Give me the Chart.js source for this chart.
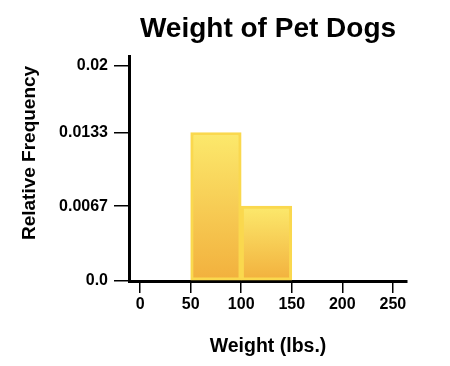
<!DOCTYPE html>
<html>
<head>
<meta charset="utf-8">
<script src="https://cdn.jsdelivr.net/npm/chart.js@4"></script>
<style>
  html, body { margin: 0; padding: 0; background: #fff; }
  #wrap { width: 450px; height: 366px; }
</style>
</head>
<body>
<div id="wrap"><canvas id="chart" width="450" height="366"></canvas></div>
<script>
// Histogram bins (lbs.) and relative frequency
const binStart = [50, 100];
const binEnd = [100, 150];
const relFreq = [0.0133, 0.0067];

// Axis ticks
const xTicks = [0, 50, 100, 150, 200, 250];
const yTickValues = [0, 0.0067, 0.0133, 0.0193];
const yTickLabels = ['0.0', '0.0067', '0.0133', '0.02'];

const points = binStart.map((s, i) => ({ x: (s + binEnd[i]) / 2, y: relFreq[i] }));

Chart.defaults.font.family = '"Liberation Sans", Arial, Helvetica, sans-serif';
Chart.defaults.color = '#000';

function barGradient(context) {
    const chart = context.chart;
    const { ctx, chartArea, scales } = chart;
    if (!chartArea) return '#f5c94a';
    const raw = context.raw;
    const top = scales.y.getPixelForValue(raw ? raw.y : 0.01);
    const bottom = scales.y.getPixelForValue(0);
    const g = ctx.createLinearGradient(0, top, 0, bottom);
    g.addColorStop(0, '#fce96c');
    g.addColorStop(1, '#f2b03d');
    return g;
}

new Chart(document.getElementById('chart'), {
    type: 'bar',
    data: {
        datasets: [{
            data: points,
            backgroundColor: barGradient,
            borderColor: '#fad84e',
            borderWidth: 3,
            borderSkipped: false,
            barPercentage: 1,
            categoryPercentage: 1
        }]
    },
    options: {
        responsive: false,
        animation: false,
        layout: { padding: { left: 0, right: 43, top: 0, bottom: 0 } },
        plugins: {
            legend: { display: false },
            tooltip: { enabled: false },
            title: {
                display: true,
                text: 'Weight of Pet Dogs',
                fullSize: false,
                font: { size: 28, weight: 'bold' },
                color: '#000',
                padding: { top: 12, bottom: 11 }
            }
        },
        scales: {
            x: {
                type: 'linear',
                min: -11,
                max: 264,
                offset: false,
                afterBuildTicks: (scale) => { scale.ticks = xTicks.map(v => ({ value: v })); },
                afterFit: (scale) => { scale.height = 85; },
                ticks: {
                    font: { size: 16, weight: 'bold' },
                    padding: 2,
                    maxRotation: 0,
                    autoSkip: false
                },
                grid: {
                    offset: false,
                    drawOnChartArea: false,
                    drawTicks: true,
                    tickLength: 12,
                    color: '#000',
                    lineWidth: 1.5
                },
                border: { display: true, color: '#000', width: 3 },
                title: {
                    display: true,
                    text: 'Weight (lbs.)',
                    font: { size: 19.5, weight: 'bold' },
                    padding: { top: 0, bottom: 8 }
                }
            },
            y: {
                min: 0,
                max: 0.0201,
                afterBuildTicks: (scale) => { scale.ticks = yTickValues.map(v => ({ value: v })); },
                afterFit: (scale) => { scale.width = 129; },
                ticks: {
                    font: { size: 16, weight: 'bold' },
                    padding: 6,
                    callback: (value, index) => yTickLabels[index]
                },
                grid: {
                    drawOnChartArea: false,
                    drawTicks: true,
                    tickLength: 15,
                    color: '#000',
                    lineWidth: 1.5
                },
                border: { display: true, color: '#000', width: 3 },
                title: {
                    display: true,
                    // leading spaces nudge the centred title up to where it sits in the original
                    text: '      Relative Frequency',
                    font: { size: 19, weight: 'bold' },
                    padding: { top: 18, bottom: 0 }
                }
            }
        }
    }
});
</script>
</body>
</html>
